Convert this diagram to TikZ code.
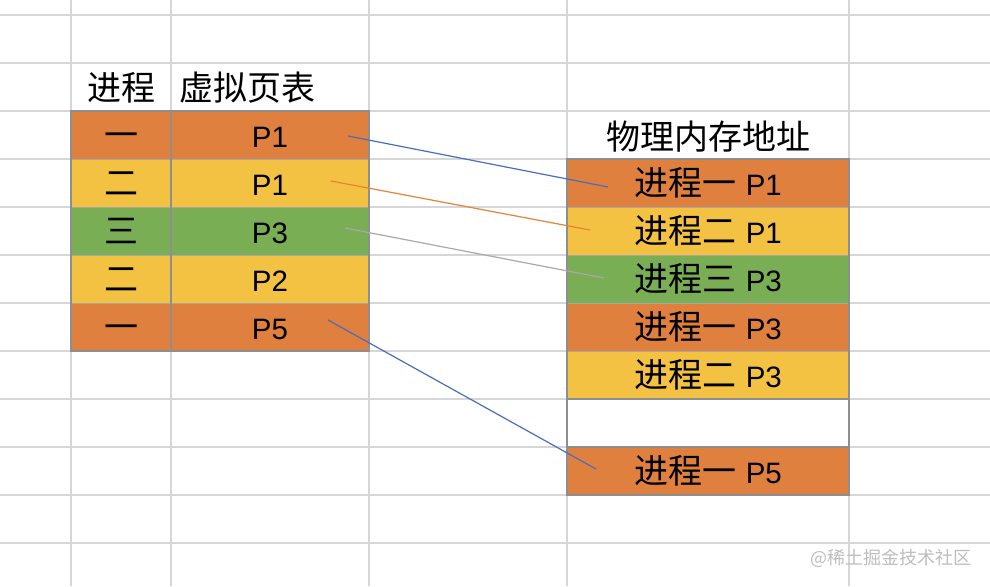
\documentclass[tikz,border=0pt]{standalone}
\usepackage{fontspec}
\newfontfamily\cjk{Noto Sans CJK SC}
\newfontfamily\lat{Liberation Sans}
\definecolor{gridgray}{HTML}{D6D6D6}
\definecolor{bordergray}{HTML}{8E8E8E}
\definecolor{rowgray}{HTML}{A8A8A8}
\definecolor{cOrange}{HTML}{E0803F}
\definecolor{cYellow}{HTML}{F4C242}
\definecolor{cGreen}{HTML}{7AAE54}
\definecolor{lBlue}{HTML}{4A6CC0}
\definecolor{lOrange}{HTML}{E8823A}
\definecolor{lGray}{HTML}{A9A9A9}
\definecolor{wmark}{HTML}{BDBDBD}
\newcommand{\zh}{\cjk\fontsize{34}{36}\selectfont}
\newcommand{\la}{\lat\fontsize{29.5}{36}\selectfont}
\newcommand{\gap}{\hspace{2pt}}
\tikzset{
  txt/.style={text height=25pt, text depth=0.2pt, text=black},
  gridline/.style={draw=gridgray, line width=1.5pt},
  fillcell/.style={txt, anchor=north west, inner sep=0pt, outer sep=0pt, minimum height=48pt},
  lw/.style={fillcell, minimum width=100pt},
  rw/.style={fillcell, minimum width=198pt},
  pw/.style={fillcell, minimum width=282pt},
  tborder/.style={draw=bordergray, line width=1.3pt},
  rowline/.style={draw=rowgray, line width=0.8pt},
  conn/.style={line width=1.2pt},
}
\begin{document}
\begin{tikzpicture}[x=1pt,y=-1pt]
\useasboundingbox (0,0) rectangle (990,586);
% grid
\foreach \yy in {15,63,111,159,207,255,303,351,399,447,495,543}
  \draw[gridline] (0,\yy) -- (990,\yy);
\foreach \xx in {71,171,369,567,849}
  \draw[gridline] (\xx,0) -- (\xx,586);
% headers
\node[txt, font=\zh, inner sep=0pt] (hA) at (121,88) {进程};
\node[txt, font=\zh, anchor=west, inner sep=0pt] (hB) at (179,88) {虚拟页表};
\node[txt, font=\zh, inner sep=0pt] (hC) at (708,137) {物理内存地址};
% left table
\node[lw, fill=cOrange, font=\zh] (p1) at (71,111) {一};
\node[rw, fill=cOrange, font=\la] (v1) at (171,111) {P1};
\node[lw, fill=cYellow, font=\zh] (p2) at (71,159) {二};
\node[rw, fill=cYellow, font=\la] (v2) at (171,159) {P1};
\node[lw, fill=cGreen, font=\zh] (p3) at (71,207) {三};
\node[rw, fill=cGreen, font=\la] (v3) at (171,207) {P3};
\node[lw, fill=cYellow, font=\zh] (p4) at (71,255) {二};
\node[rw, fill=cYellow, font=\la] (v4) at (171,255) {P2};
\node[lw, fill=cOrange, font=\zh] (p5) at (71,303) {一};
\node[rw, fill=cOrange, font=\la] (v5) at (171,303) {P5};
\foreach \yy in {159,207,255,303}
  \draw[rowline] (71,\yy) -- (369,\yy);
\draw[tborder] (71,111) rectangle (369,351);
\draw[tborder] (171,111) -- (171,351);
% right table
\node[pw, fill=cOrange] (m1) at (567,159) {\zh 进程一 \gap\la P1};
\node[pw, fill=cYellow] (m2) at (567,207) {\zh 进程二 \gap\la P1};
\node[pw, fill=cGreen]  (m3) at (567,255) {\zh 进程三 \gap\la P3};
\node[pw, fill=cOrange] (m4) at (567,303) {\zh 进程一 \gap\la P3};
\node[pw, fill=cYellow] (m5) at (567,351) {\zh 进程二 \gap\la P3};
\node[pw, fill=white]   (m6) at (567,399) {};
\node[pw, fill=cOrange] (m7) at (567,447) {\zh 进程一 \gap\la P5};
\foreach \yy in {207,255,303,351}
  \draw[rowline] (567,\yy) -- (849,\yy);
\draw[tborder] (567,399) -- (849,399);
\draw[tborder] (567,447) -- (849,447);
\draw[tborder] (567,159) rectangle (849,495);
% connector ends
\coordinate (s1) at (348,136);
\coordinate (s2) at (331,181);
\coordinate (s3) at (345,228);
\coordinate (s4) at (328,320);
\coordinate (e1) at (608,187);
\coordinate (e2) at (590,230);
\coordinate (e3) at (604,278);
\coordinate (e4) at (596,469);
\draw[conn, lBlue] (s1) -- (e1);
\draw[conn, lOrange] (s2) -- (e2);
\draw[conn, lGray] (s3) -- (e3);
\draw[conn, lBlue] (s4) -- (e4);
% watermark
\node[text=wmark, font=\cjk\fontsize{18}{20}\selectfont] (wm) at (891,558) {@稀土掘金技术社区};
\end{tikzpicture}
\end{document}
